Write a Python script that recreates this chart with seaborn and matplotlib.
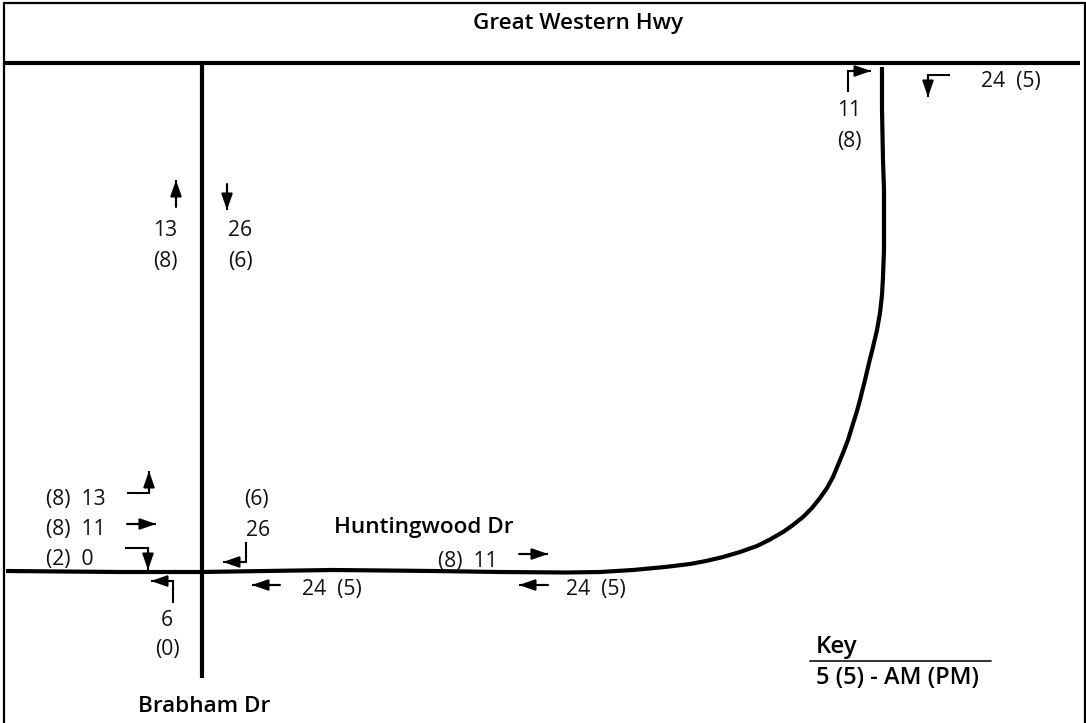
import matplotlib
matplotlib.use("Agg")
import matplotlib.pyplot as plt
import seaborn as sns
import pandas as pd

sns.set_theme(style="white")
plt.rcParams['font.family'] = ['Open Sans', 'DejaVu Sans']

# Roads (pixel-like map coordinates)
great_western_x = [4, 1080]
great_western_y = [63, 63]
brabham_x = [202, 202]
brabham_y = [63, 678]
huntingwood_x = [6, 120, 202, 265, 333, 385, 433, 500, 567, 600, 633, 665, 690, 706, 723, 740, 757, 770, 783, 793, 803, 812,
                 820, 827, 833, 838, 843, 848, 852, 857, 860, 865, 869, 873, 877, 880, 882, 883, 884, 884, 884, 883, 882, 882]
huntingwood_y = [571, 572, 572, 571, 570, 570.5, 571, 572, 572.5, 572, 570, 567, 564, 561, 557, 552, 546, 539.5, 532, 525, 517, 508,
                 498, 488, 477, 465, 453, 440, 427, 411, 400, 380, 363, 347, 330, 313, 295, 277, 250, 227, 190, 160, 110, 67]

# Turning-movement arrows: each path ends at the arrow tip
arrow_paths = [
    [(848, 92), (848, 71), (871, 71)],
    [(950, 75), (928, 75), (928, 97)],
    [(176, 207), (176, 180)],
    [(227, 184), (227, 210)],
    [(127, 493), (149, 493), (149, 471)],
    [(127, 524), (156, 524)],
    [(125, 548), (148, 548), (148, 570)],
    [(246, 542), (246, 562), (223, 562)],
    [(173, 603), (173, 581), (151, 581)],
    [(280, 585), (252, 585)],
    [(519, 554), (548, 554)],
    [(548, 585), (519, 585)],
]

# Flow labels
flow_labels = ["24  (5)", "11", "(8)", "13", "(8)", "26", "(6)", "(6)", "26",
               "24  (5)", "24  (5)", "6", "(0)", "(8)  13", "(8)  11", "(2)  0", "(8)  11"]
flow_x = [1011, 849, 849, 165, 165, 240, 240, 256, 258, 332, 596, 167, 167, 46, 46, 46, 438]
flow_y = [82, 111, 142, 231, 261, 231, 261, 499, 531, 590, 590, 620, 650, 499, 529, 559, 561]
flow_ha = ["center"] * 13 + ["left"] * 4

# Road names
road_names = ["Great Western Hwy", "Huntingwood Dr", "Brabham Dr"]
road_name_x = [578, 424, 204]
road_name_y = [23, 527, 707]

# Key
key_title = "Key"
key_text = "5 (5) - AM (PM)"
key_x = 816
key_title_y = 647
key_text_y = 678
key_rule_x = [810, 991]
key_rule_y = [661, 661]

# Frame
frame_x = [4, 4, 1085, 1085]
frame_y = [723, 3, 3, 723]

fig = plt.figure(figsize=(10.86, 7.23), dpi=100, facecolor="white")
ax = fig.add_axes([0, 0, 1, 1])

road_kw = dict(color="black", sort=False, estimator=None, ax=ax, legend=False)
for xs, ys, lw in [(great_western_x, great_western_y, 3.0), (brabham_x, brabham_y, 3.0), (huntingwood_x, huntingwood_y, 3.0)]:
    sns.lineplot(data=pd.DataFrame({"x": xs, "y": ys}), x="x", y="y", linewidth=lw,
                 solid_capstyle="butt", solid_joinstyle="round", **road_kw)

ax.plot(frame_x, frame_y, color="black", linewidth=1.6, solid_joinstyle="miter")
ax.plot(key_rule_x, key_rule_y, color="#222222", linewidth=1.3)

for path in arrow_paths:
    xs, ys = zip(*path)
    ax.plot(xs, ys, color="black", linewidth=1.5, solid_joinstyle="miter", solid_capstyle="butt")
    ax.annotate("", xy=path[-1], xytext=path[-2],
                arrowprops=dict(arrowstyle="-|>,head_length=0.8,head_width=0.28", color="black",
                                linewidth=1.5, shrinkA=0, shrinkB=0))

for s, x, y, ha in zip(flow_labels, flow_x, flow_y, flow_ha):
    ax.text(x, y, s, ha=ha, va="center", fontsize=15.2, color="#111111")

for s, x, y in zip(road_names, road_name_x, road_name_y):
    ax.text(x, y, s, ha="center", va="center", fontsize=16.2, fontweight="semibold", color="black")

ax.text(key_x, key_title_y, key_title, ha="left", va="center", fontsize=17.3, fontweight="semibold", color="black")
ax.text(key_x, key_text_y, key_text, ha="left", va="center", fontsize=17.0, fontweight="semibold", color="black")

ax.set_xlim(0, 1086)
ax.set_ylim(723, 0)
ax.set_xlabel("")
ax.set_ylabel("")
ax.axis("off")

fig.savefig("out.png", dpi=100, facecolor="white")
